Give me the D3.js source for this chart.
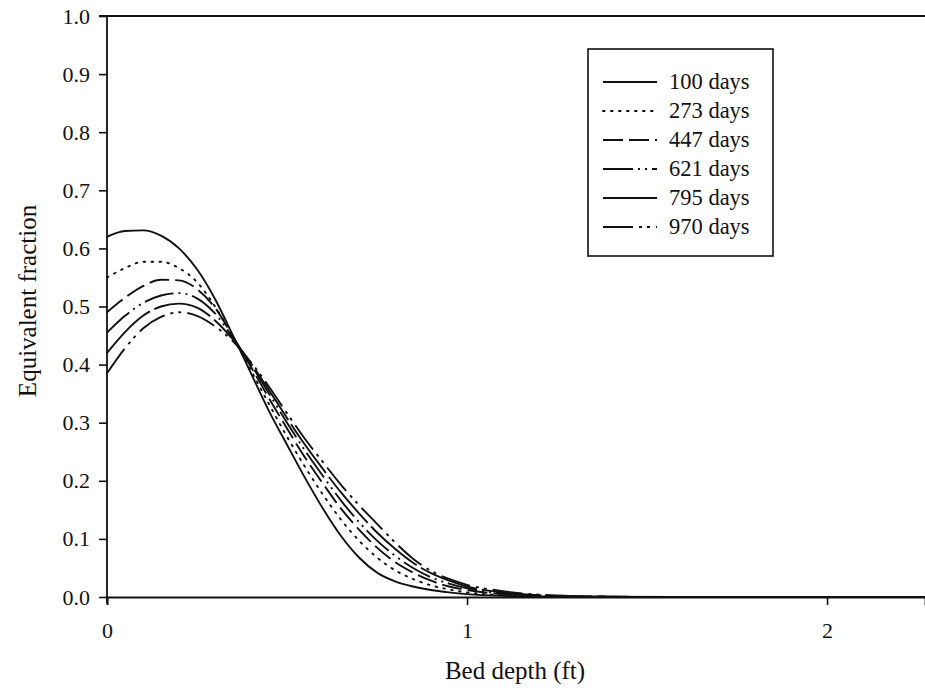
<!DOCTYPE html>
<html>
<head>
<meta charset="utf-8">
<script src="https://cdn.jsdelivr.net/npm/d3@7"></script>
<style>
  html, body { margin: 0; padding: 0; background: #fff; }
  svg { display: block; }
  text { font-family: "Liberation Serif", "Times New Roman", serif; fill: #111; }
</style>
</head>
<body>
<svg id="chart" width="925" height="696"></svg>
<script>
// Bed depth samples (ft)
const depth = [0, 0.05, 0.1, 0.15, 0.2, 0.25, 0.3, 0.35, 0.4, 0.45, 0.5, 0.55, 0.6, 0.65, 0.7,
               0.75, 0.8, 0.85, 0.9, 0.95, 1.0, 1.1, 1.2, 1.3, 1.4, 1.6, 2.0, 2.28];

// Equivalent fraction profiles at each elapsed time
const days100 = [0.620, 0.630, 0.631, 0.622, 0.600, 0.564, 0.513, 0.450, 0.385, 0.320, 0.262, 0.205, 0.152, 0.105, 0.068,
                 0.042, 0.027, 0.018, 0.012, 0.008, 0.005, 0.002, 0.001, 0.0004, 0.0002, 0, 0, 0];
const days273 = [0.550, 0.566, 0.577, 0.577, 0.566, 0.542, 0.500, 0.447, 0.390, 0.332, 0.276, 0.224, 0.176, 0.133, 0.097,
                 0.068, 0.046, 0.031, 0.020, 0.013, 0.008, 0.003, 0.001, 0.0005, 0.0002, 0, 0, 0];
const days447 = [0.490, 0.515, 0.535, 0.546, 0.545, 0.530, 0.498, 0.448, 0.396, 0.342, 0.290, 0.240, 0.195, 0.152, 0.116,
                 0.085, 0.060, 0.042, 0.028, 0.018, 0.012, 0.005, 0.002, 0.0008, 0.0003, 0, 0, 0];
const days621 = [0.455, 0.484, 0.506, 0.519, 0.523, 0.514, 0.488, 0.446, 0.400, 0.350, 0.300, 0.252, 0.208, 0.166, 0.129,
                 0.097, 0.071, 0.050, 0.034, 0.023, 0.015, 0.006, 0.0025, 0.001, 0.0004, 0, 0, 0];
const days795 = [0.420, 0.456, 0.484, 0.500, 0.505, 0.498, 0.476, 0.443, 0.402, 0.356, 0.308, 0.262, 0.220, 0.180, 0.144,
                 0.111, 0.083, 0.059, 0.041, 0.028, 0.018, 0.008, 0.003, 0.0012, 0.0005, 0, 0, 0];
const days970 = [0.385, 0.428, 0.462, 0.482, 0.490, 0.484, 0.466, 0.440, 0.404, 0.362, 0.316, 0.272, 0.232, 0.193, 0.158,
                 0.126, 0.094, 0.066, 0.045, 0.031, 0.021, 0.010, 0.004, 0.0015, 0.0006, 0, 0, 0];

const seriesNames = ["100 days", "273 days", "447 days", "621 days", "795 days", "970 days"];
const seriesValues = [days100, days273, days447, days621, days795, days970];

const yTicks = [0, 0.1, 0.2, 0.3, 0.4, 0.5, 0.6, 0.7, 0.8, 0.9, 1.0];
const xTicks = [0, 1, 2];

// Stroke pattern for each series
const dashes = ["none", "1.6,6.4", "20,6", "30,5,2,5,2,5", "60,5", "30,6,3,5,3,6"];

const svg = d3.select("#chart");
const plotLeft = 107, plotRight = 925, plotTop = 16, plotBottom = 597;

const x = d3.scaleLinear().domain([0, 2.272]).range([plotLeft, plotRight]);
const y = d3.scaleLinear().domain([0, 1]).range([plotBottom, plotTop]);

// Curves
const line = d3.line()
  .x((d, i) => x(depth[i]))
  .y(d => y(d))
  .curve(d3.curveMonotoneX);

seriesValues.forEach((vals, k) => {
  svg.append("path")
    .attr("d", line(vals))
    .attr("fill", "none")
    .attr("stroke", "#111")
    .attr("stroke-width", 1.9)
    .attr("stroke-dasharray", dashes[k])
    .attr("stroke-linecap", k === 1 ? "round" : "butt");
});

// Axes
const yAxis = d3.axisLeft(y).tickValues(yTicks).tickFormat(d3.format(".1f")).tickSize(8).tickPadding(9);
const xAxis = d3.axisBottom(x).tickValues(xTicks).tickFormat(d3.format("d")).tickSize(8).tickPadding(17);

const gy = svg.append("g").attr("transform", `translate(${plotLeft},0)`).call(yAxis);
const gx = svg.append("g").attr("transform", `translate(0,${plotBottom})`).call(xAxis);

[gy, gx].forEach(g => {
  g.select(".domain").attr("stroke", "#111").attr("stroke-width", 1.8);
  g.selectAll(".tick line").attr("stroke", "#111").attr("stroke-width", 1.6);
  g.selectAll(".tick text").attr("font-size", 22).attr("font-family", "Liberation Serif, serif").attr("fill", "#111");
});
gy.select(".domain").attr("d", `M0,${plotBottom + 6}V${plotTop}`);

// Top frame line
svg.append("line")
  .attr("x1", plotLeft - 8).attr("x2", plotRight)
  .attr("y1", plotTop).attr("y2", plotTop)
  .attr("stroke", "#111").attr("stroke-width", 1.8);

// Axis titles
svg.append("text")
  .attr("x", 515).attr("y", 679)
  .attr("text-anchor", "middle")
  .attr("font-size", 25)
  .text("Bed depth (ft)");

svg.append("text")
  .attr("transform", "translate(36,301) rotate(-90)")
  .attr("text-anchor", "middle")
  .attr("font-size", 25)
  .text("Equivalent fraction");

// Legend
const lg = svg.append("g");
lg.append("rect")
  .attr("x", 588).attr("y", 49).attr("width", 185).attr("height", 207)
  .attr("fill", "#fff").attr("stroke", "#111").attr("stroke-width", 1.6);

seriesNames.forEach((name, k) => {
  const ly = 82 + k * 29;
  lg.append("line")
    .attr("x1", 603).attr("x2", 657)
    .attr("y1", ly).attr("y2", ly)
    .attr("stroke", "#111").attr("stroke-width", 1.9)
    .attr("stroke-dasharray", k === 4 ? "none" : dashes[k])
    .attr("stroke-linecap", k === 1 ? "round" : "butt");
  lg.append("text")
    .attr("x", 669).attr("y", ly + 7)
    .attr("font-size", 22.5)
    .text(name);
});
</script>
</body>
</html>
